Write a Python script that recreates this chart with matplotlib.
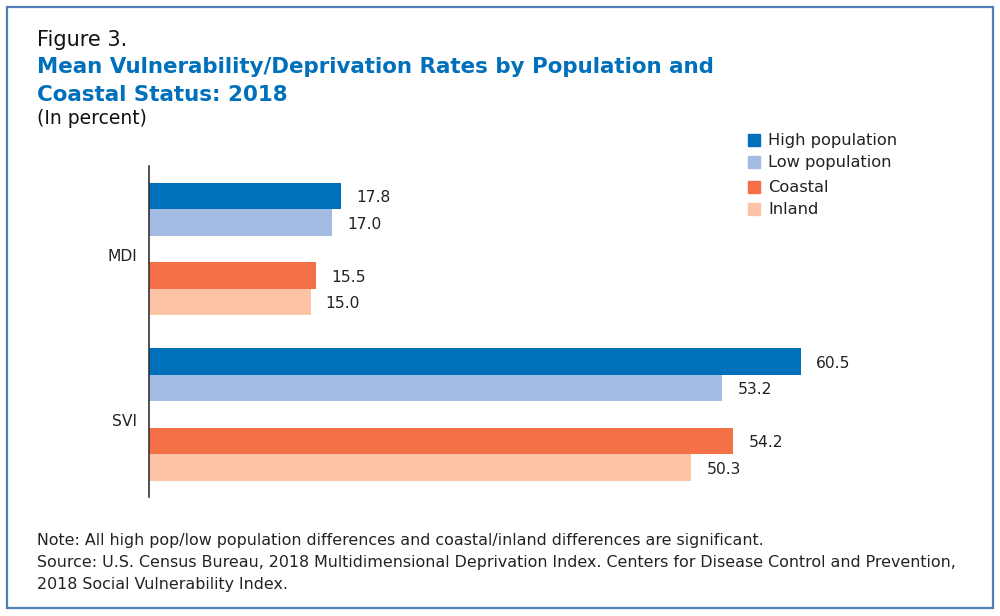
import matplotlib
matplotlib.use("Agg")
import matplotlib.pyplot as plt
from matplotlib.patches import Rectangle

plt.rcParams['font.family'] = ['DejaVu Sans']

categories = ["MDI", "SVI"]
series_names = ["High population", "Low population", "Coastal", "Inland"]
high_pop = [17.8, 60.5]
low_pop = [17.0, 53.2]
coastal = [15.5, 54.2]
inland = [15.0, 50.3]
series_values = [high_pop, low_pop, coastal, inland]
colors = ["#0070ba", "#a4bce3", "#f47147", "#fcc3a7"]
offsets = [-2, -1, 1, 2]
cat_pos = [0, 6.25]

W, H = 1000, 616
fig = plt.figure(figsize=(W / 100, H / 100), dpi=100)

# border
fig.add_artist(Rectangle((7 / W, 1 - 608 / H), 986 / W, 601 / H, transform=fig.transFigure,
                         fill=False, edgecolor="#4f7fb5", linewidth=1.6))

ax = fig.add_axes([149 / W, 1 - 497 / H, 754.6 / W, 331 / H])
for vals, col, off in zip(series_values, colors, offsets):
    ys = [c + off for c in cat_pos]
    ax.barh(ys, vals, height=1.0, color=col, edgecolor='none')
    for y, v in zip(ys, vals):
        ax.text(v + 1.4, y + 0.06, f"{v:.1f}", va='center', ha='left', fontsize=11.2, color="#222222")

ax.set_xlim(0, 70)
ax.set_ylim(9.36, -3.13)
for s in ["top", "right", "bottom"]:
    ax.spines[s].set_visible(False)
ax.spines["left"].set_color("#333333")
ax.spines["left"].set_linewidth(1.2)
ax.set_xticks([])
ax.set_yticks([])
for c, name in zip(cat_pos, categories):
    ax.text(-1.1, c + 0.27, name, ha='right', va='center', fontsize=11.2, color="#222222")

# titles
fig.text(37 / W, 1 - 40 / H, "Figure 3.", fontsize=15, color="#111111", va='center', ha='left')
fig.text(37 / W, 1 - 67 / H, "Mean Vulnerability/Deprivation Rates by Population and",
         fontsize=15.4, fontweight='bold', color="#0070ba", va='center', ha='left')
fig.text(37 / W, 1 - 95 / H, "Coastal Status: 2018",
         fontsize=15.4, fontweight='bold', color="#0070ba", va='center', ha='left')
fig.text(37 / W, 1 - 118 / H, "(In percent)", fontsize=13.5, color="#111111", va='center', ha='left')

# legend
leg_y = [140, 162, 187, 209]
for name, col, ly in zip(series_names, colors, leg_y):
    fig.add_artist(Rectangle((748 / W, 1 - (ly + 6) / H), 12 / W, 12 / H,
                             transform=fig.transFigure, color=col))
    fig.text(768 / W, 1 - ly / H, name, fontsize=11.7, color="#222222", va='center', ha='left')

# notes
fig.text(37 / W, 1 - 541 / H,
         "Note: All high pop/low population differences and coastal/inland differences are significant.",
         fontsize=11.4, color="#222222", va='center', ha='left')
fig.text(37 / W, 1 - 563 / H,
         "Source: U.S. Census Bureau, 2018 Multidimensional Deprivation Index. Centers for Disease Control and Prevention,",
         fontsize=11.4, color="#222222", va='center', ha='left')
fig.text(37 / W, 1 - 584 / H, "2018 Social Vulnerability Index.",
         fontsize=11.4, color="#222222", va='center', ha='left')

fig.savefig("out.png", dpi=100)
